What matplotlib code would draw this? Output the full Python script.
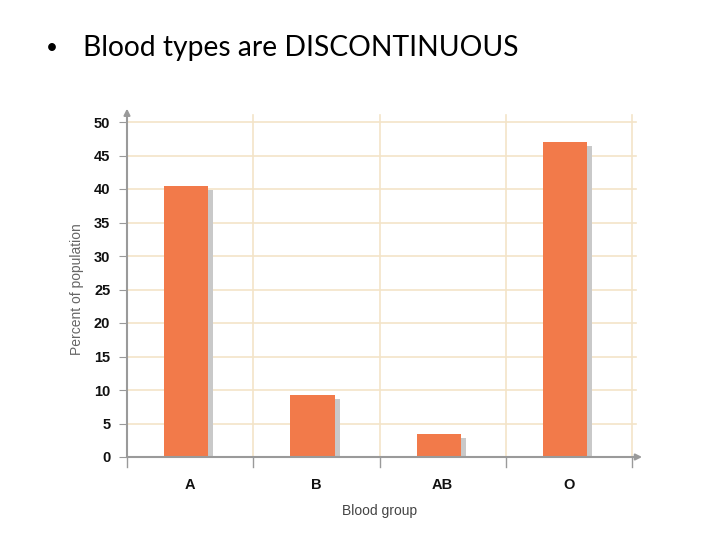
import numpy as np
import matplotlib.pyplot as plt

# blood group distribution
groups = ["A", "B", "AB", "O"]
percent = [40.5, 9.2, 3.5, 47.0]
yticks = [0, 5, 10, 15, 20, 25, 30, 35, 40, 45, 50]

bar_color = "#f27a4a"
shadow_color = "#c9c9c9"
grid_color = "#f3e4c8"
axis_color = "#9a9a9a"

fig = plt.figure(figsize=(7.2, 5.4), dpi=100)
fig.text(0.064, 0.912, "\u2022", fontsize=15, family="Lato", va="center")
fig.text(0.115, 0.912, "Blood types are DISCONTINUOUS", fontsize=20.3,
         family="Lato", va="center")

ax = fig.add_axes([127 / 720, 1 - 457 / 540, 505 / 720, 335 / 540])
x = np.arange(len(groups))
vals = np.array(percent)

# gray drop shadow, then the orange bars
ax.bar(x + 0.01, vals - 0.6, width=0.35, color=shadow_color, zorder=2)
ax.bar(x - 0.03, vals, width=0.35, color=bar_color, zorder=3)

ax.set_xlim(-0.5, len(groups) - 0.5)
ax.set_ylim(0, 50)

for y in yticks[1:]:
    ax.axhline(y, color=grid_color, lw=1.2, zorder=1, xmax=1.008, clip_on=False)
for xe in np.arange(0.5, len(groups), 1.0):
    ax.plot([xe, xe], [0, 51], color=grid_color, lw=1.2, zorder=1, clip_on=False)
    ax.plot([xe, xe], [0, -1.5], color=axis_color, lw=1, clip_on=False)
ax.plot([-0.5, -0.5], [0, -1.5], color=axis_color, lw=1, clip_on=False)

for s in ax.spines.values():
    s.set_visible(False)
ax.annotate("", xy=(-0.5, 52), xytext=(-0.5, 0), xycoords="data",
            arrowprops=dict(arrowstyle="-|>", color=axis_color, lw=1.5,
                            mutation_scale=9, shrinkA=0, shrinkB=0),
            annotation_clip=False, zorder=4)
ax.annotate("", xy=(3.58, 0), xytext=(-0.5, 0), xycoords="data",
            arrowprops=dict(arrowstyle="-|>", color=axis_color, lw=1.5,
                            mutation_scale=9, shrinkA=0, shrinkB=0),
            annotation_clip=False, zorder=4)

ax.set_yticks(yticks)
ax.set_yticklabels([str(v) for v in yticks], fontsize=10.5, fontweight="bold",
                   family="Liberation Sans", color="#111111")
ax.tick_params(axis="y", length=6, color=axis_color, pad=6)
ax.set_xticks(x)
ax.set_xticklabels(groups, fontsize=10.5, fontweight="bold",
                   family="Liberation Sans", color="#111111")
ax.tick_params(axis="x", length=0, pad=15)

ax.set_ylabel("Percent of population", fontsize=10, color="#666666",
              family="Liberation Sans", va="center")
ax.yaxis.set_label_coords((77 - 127) / 505, 0.5)
ax.set_xlabel("Blood group", fontsize=10, color="#444444",
              family="Liberation Sans", va="center")
ax.xaxis.set_label_coords(0.5, (457 - 511) / 335)

fig.savefig("out.png", dpi=100)
